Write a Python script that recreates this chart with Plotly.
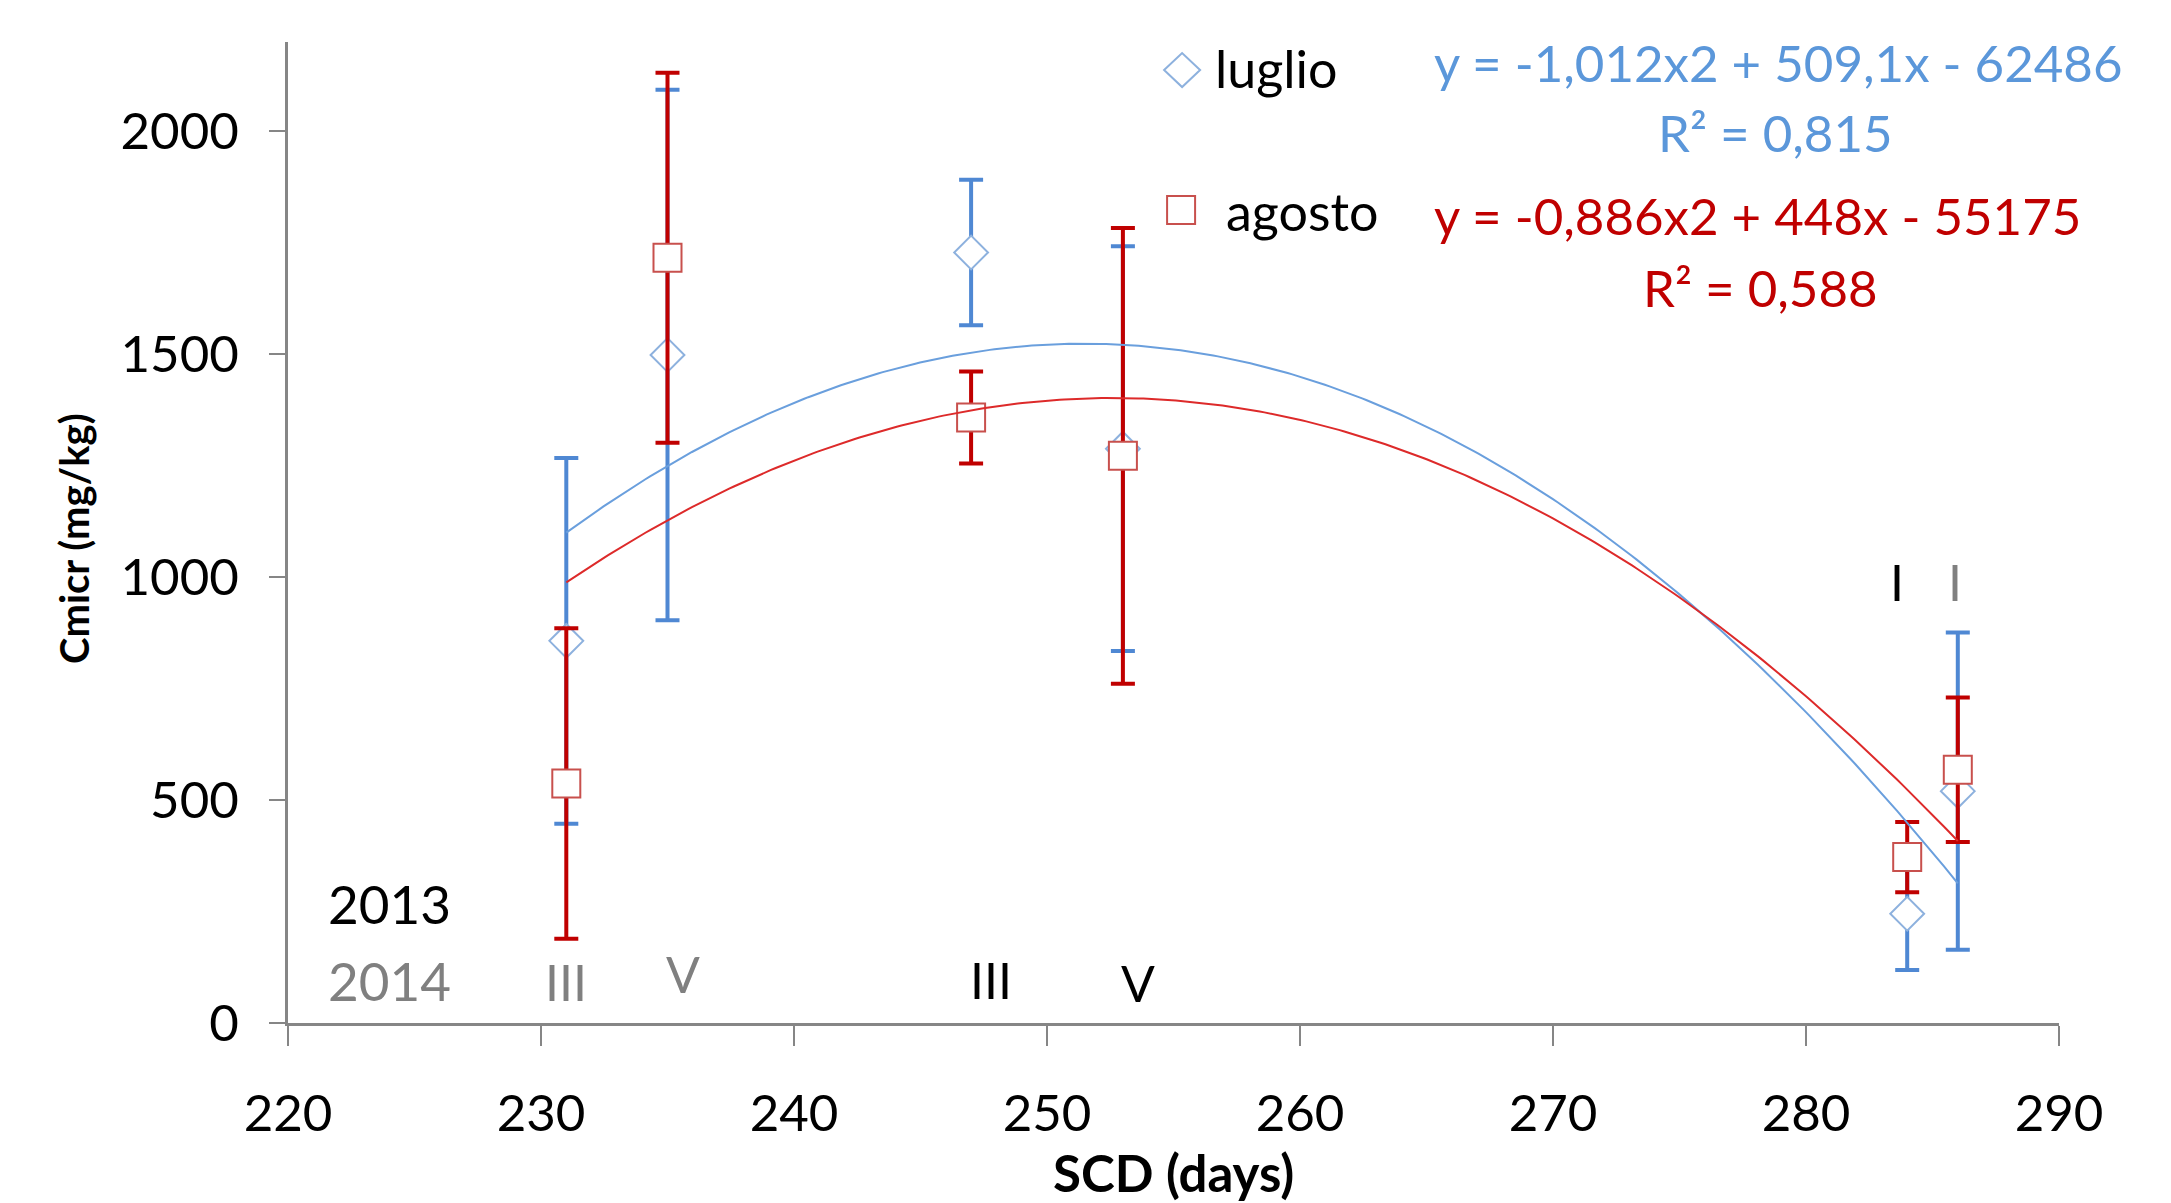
import numpy as np
import plotly.graph_objects as go

# ---------------- data ----------------
scd = [231, 235, 247, 253, 284, 286]
cmicr_luglio = [857, 1498, 1728, 1288, 245, 520]
err_luglio = [410, 595, 163, 454, 126, 356]
cmicr_agosto = [537, 1716, 1358, 1272, 372, 568]
err_agosto = [348, 415, 103, 511, 79, 162]

series_names = ["luglio", "agosto"]
eq_luglio = ["y = -1,012x2 + 509,1x - 62486", "R² = 0,815"]
eq_agosto = ["y = -0,886x2 + 448x - 55175", "R² = 0,588"]

x_ticks = [220, 230, 240, 250, 260, 270, 280, 290]
y_ticks = [0, 500, 1000, 1500, 2000]

# ---------------- styling ----------------
FONT = "Lato"
BLUE_BAR = "#4F88D3"
BLUE_MK = "#8DB1DE"
BLUE_LINE = "#6A9FDD"
BLUE_TXT = "#5B97DA"
RED_BAR = "#C00000"
RED_MK = "#C8504D"
RED_LINE = "#DD2A2A"
RED_TXT = "#C00000"
GRAY = "#868686"
GRAY_TXT = "#808080"

fig = go.Figure()

fig.add_trace(go.Scatter(
    x=scd, y=cmicr_luglio, mode="markers", name=series_names[0],
    marker=dict(symbol="diamond", size=26, color="white",
                line=dict(color=BLUE_MK, width=2)),
    error_y=dict(type="data", array=err_luglio, visible=True,
                 color=BLUE_BAR, thickness=4, width=12),
    showlegend=False, cliponaxis=False,
))
fig.add_trace(go.Scatter(
    x=scd, y=cmicr_agosto, mode="markers", name=series_names[1],
    marker=dict(symbol="square", size=28, color="white",
                line=dict(color=RED_MK, width=2)),
    error_y=dict(type="data", array=err_agosto, visible=True,
                 color=RED_BAR, thickness=4, width=12),
    showlegend=False, cliponaxis=False,
))

# polynomial trendlines (2nd order) fitted on the data
xs = np.linspace(min(scd), max(scd), 300)
for yv, col in [(cmicr_luglio, BLUE_LINE), (cmicr_agosto, RED_LINE)]:
    coef = np.polyfit(scd, yv, 2)
    fig.add_trace(go.Scatter(x=xs, y=np.polyval(coef, xs), mode="lines",
                             line=dict(color=col, width=2), showlegend=False,
                             hoverinfo="skip"))

annotations = []
def ann(text, x, y, color, size, xanchor="center", bold=False, xref="x", yref="y", angle=0):
    annotations.append(dict(
        text=f"<b>{text}</b>" if bold else text, x=x, y=y, xref=xref, yref=yref,
        showarrow=False, xanchor=xanchor, yanchor="middle", textangle=angle,
        font=dict(family=FONT, size=size, color=color)))

# legend texts
ann(series_names[0], 256.55, 2142, "black", 52, xanchor="left")
ann(series_names[1], 257.0, 1822, "black", 52, xanchor="left")
# equations
ann(eq_luglio[0], 278.9, 2155, BLUE_TXT, 51)
ann(eq_luglio[1], 278.8, 1996, BLUE_TXT, 51)
ann(eq_agosto[0], 278.1, 1812, RED_TXT, 51)
ann(eq_agosto[1], 278.2, 1650, RED_TXT, 51)
# year / stage labels
ann("2013", 224.0, 267, "black", 53)
ann("2014", 224.0, 96, GRAY_TXT, 53)
ann("III", 231.0, 92, GRAY_TXT, 50)
ann("V", 235.6, 110, GRAY_TXT, 50)
ann("III", 247.8, 96, "black", 50)
ann("V", 253.6, 90, "black", 50)
ann("I", 283.6, 990, "black", 50)
ann("I", 285.9, 990, GRAY_TXT, 50)
# axis titles
ann("SCD (days)", 0.5, -0.152, "black", 51, bold=True, xref="paper", yref="paper")
ann("Cmicr (mg/kg)", -0.1205, 0.494, "black", 40, bold=True, xref="paper", yref="paper", angle=-90)

shapes = [
    dict(type="path", xref="x", yref="y", xsizemode="pixel", ysizemode="pixel",
         xanchor=255.34, yanchor=2137, path="M -18 0 L 0 17 L 18 0 L 0 -17 Z",
         line=dict(color=BLUE_MK, width=2), fillcolor="white"),
    dict(type="path", xref="x", yref="y", xsizemode="pixel", ysizemode="pixel",
         xanchor=255.3, yanchor=1823, path="M -14 -14 L 14 -14 L 14 14 L -14 14 Z",
         line=dict(color=RED_MK, width=2), fillcolor="white"),
]

fig.update_layout(
    width=2171, height=1203,
    margin=dict(l=280, r=120, t=34, b=188),
    paper_bgcolor="white", plot_bgcolor="white",
    font=dict(family=FONT, size=51, color="black"),
    annotations=annotations, shapes=shapes,
)
fig.update_xaxes(range=[220, 290], tickvals=x_ticks, showgrid=False, zeroline=False,
                 showline=True, linecolor=GRAY, linewidth=3, ticks="outside",
                 ticklen=20, tickwidth=2, tickcolor=GRAY, ticklabelstandoff=24,
                 tickfont=dict(family=FONT, size=51, color="black"))
fig.update_yaxes(range=[0, 2200], tickvals=y_ticks, showgrid=False, zeroline=False,
                 showline=True, linecolor=GRAY, linewidth=3, ticks="outside",
                 ticklen=16, tickwidth=2, tickcolor=GRAY, ticklabelstandoff=20,
                 tickfont=dict(family=FONT, size=51, color="black"))

fig.write_html("out.html")
